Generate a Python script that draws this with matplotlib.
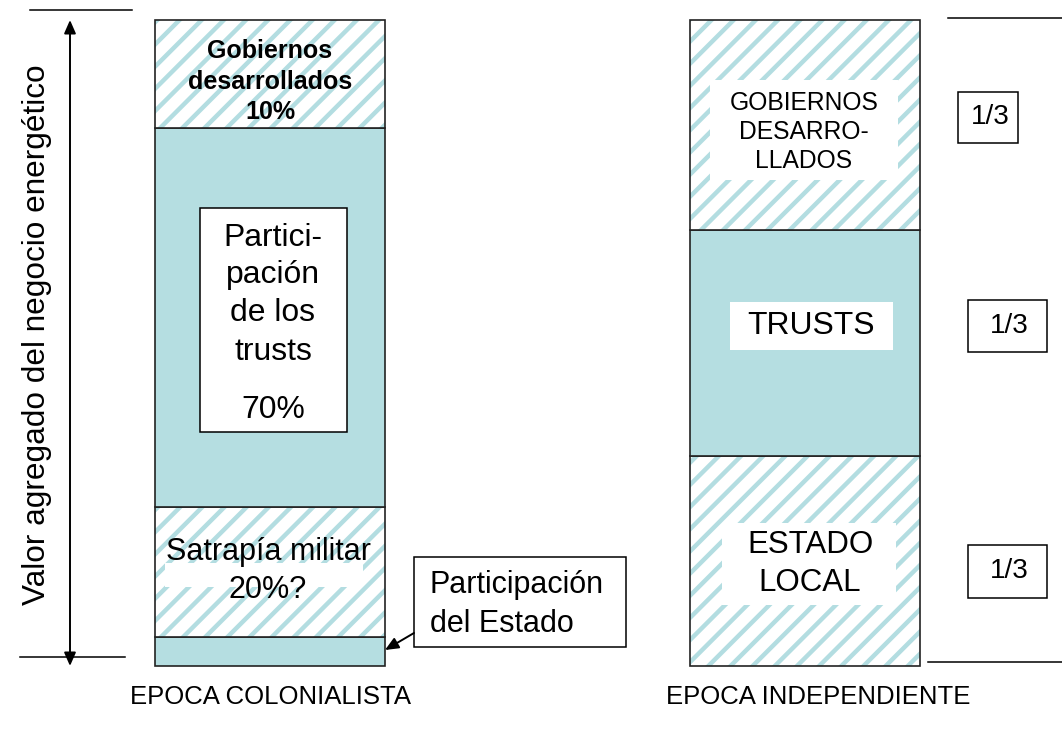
import matplotlib
matplotlib.use("Agg")
import matplotlib.pyplot as plt
from matplotlib.patches import Rectangle, FancyArrowPatch
from matplotlib.transforms import Affine2D

W, H = 1062, 739
DPI = 133  # hatch tile is one inch, so this sets the stripe spacing
K = 100 / DPI  # keeps sizes as they would be at 100 dpi

# stacked shares, bottom -> top
colonial_labels = ["Estado", "Satrapía militar", "Trusts", "Gobiernos desarrollados"]
colonial_values = [4.5, 20.1, 58.7, 16.7]
colonial_hatched = [False, True, False, True]

indep_labels = ["Estado local", "Trusts", "Gobiernos desarrollados"]
indep_values = [32.5, 35.0, 32.5]
indep_hatched = [True, False, True]

epochs = ["EPOCA COLONIALISTA", "EPOCA INDEPENDIENTE"]

fill = "#b5dee1"
stripe = "#b3dde1"
edge = "#222222"

plt.rcParams["font.family"] = ["Liberation Sans", "DejaVu Sans"]
plt.rcParams["hatch.linewidth"] = 3.2 * K

fig = plt.figure(figsize=(W / DPI, H / DPI), dpi=DPI)
# axes placed so that 0..100 spans the bar height
ax = fig.add_axes([0, 73 / H, 1, 646 / H])
ax.set_xlim(-270 / 535, 1 + (W - 805) / 535)
ax.set_ylim(0, 100)
ax.set_axis_off()

# pixel coordinates, y pointing down
pix = Affine2D().scale(1 / W, -1 / H).translate(0, 1) + fig.transFigure


def stack(x, values, hatched):
    bottom = 0
    for v, h in zip(values, hatched):
        if h:
            ax.bar(x, v, 0.43, bottom=bottom, color="white", edgecolor=stripe,
                   hatch="//", linewidth=0, clip_on=False)
            ax.bar(x, v, 0.43, bottom=bottom, fill=False, edgecolor=edge,
                   linewidth=1.2 * K, clip_on=False)
        else:
            ax.bar(x, v, 0.43, bottom=bottom, color=fill, edgecolor=edge,
                   linewidth=1.2 * K, clip_on=False)
        bottom += v


stack(0, colonial_values, colonial_hatched)
stack(1, indep_values, indep_hatched)


def box(x0, y0, x1, y1, ec="black", lw=1.1):
    fig.patches.append(Rectangle((x0, y0), x1 - x0, y1 - y0, transform=pix,
                                 facecolor="white", edgecolor=ec, linewidth=lw * K))


def txt(x, y, s, size, **kw):
    fig.text(x, y, s, transform=pix, fontsize=size * K, ha=kw.pop("ha", "center"),
             va="center", **kw)


def hline(x0, x1, y):
    fig.add_artist(plt.Line2D([x0, x1], [y, y], transform=pix, color="black", lw=1.1 * K))


def arrow(p0, p1, style):
    fig.patches.append(FancyArrowPatch(p0, p1, transform=pix, arrowstyle=style,
                                       mutation_scale=10 * K, color="black",
                                       lw=1.4 * K, shrinkA=0, shrinkB=0))


# left side guides and axis arrow
hline(30, 132, 10)
hline(20, 125, 657)
arrow((70, 20), (70, 666), "<|-|>,head_length=0.8,head_width=0.35")
txt(37, 335, "Valor agregado del negocio energético", 22.7, rotation=90)

# right side guides
hline(948, W, 18)
hline(928, W, 662)

# colonial bar labels
for s, y in zip(["Gobiernos", "desarrollados", "10%"], [51, 82, 112]):
    txt(270, y, s, 18, fontweight="bold")

box(200, 208, 347, 432)
for s, y in zip(["Partici-", "pación", "de los", "trusts", "70%"], [238, 275, 313, 352, 410]):
    txt(273, y, s, 23)

box(165, 563, 363, 587, ec="none")
txt(268, 552, "Satrapía militar", 22)
txt(268, 590, "20%?", 22)

box(414, 557, 626, 647)
txt(430, 585, "Participación", 22, ha="left")
txt(430, 624, "del Estado", 22, ha="left")
arrow((414, 633), (385, 650), "-|>,head_length=0.8,head_width=0.35")

# independent bar labels
box(710, 80, 898, 180, ec="none")
for s, y in zip(["GOBIERNOS", "DESARRO-", "LLADOS"], [103, 132, 161]):
    txt(804, y, s, 17.7)

box(730, 302, 893, 350, ec="none")
txt(811, 326, "TRUSTS", 23)

box(722, 523, 896, 605, ec="none")
txt(810, 545, "ESTADO", 22.5)
txt(810, 583, "LOCAL", 22.5)

for (x0, y0, x1, y1) in [(958, 92, 1018, 143), (968, 300, 1047, 352), (968, 545, 1047, 598)]:
    box(x0, y0, x1, y1)
    txt((x0 + x1) / 2 + 2, (y0 + y1) / 2, "1/3", 20)

for s, x in zip(epochs, [270, 818]):
    txt(x, 697, s, 18.5)

fig.savefig("out.png", dpi=DPI)
